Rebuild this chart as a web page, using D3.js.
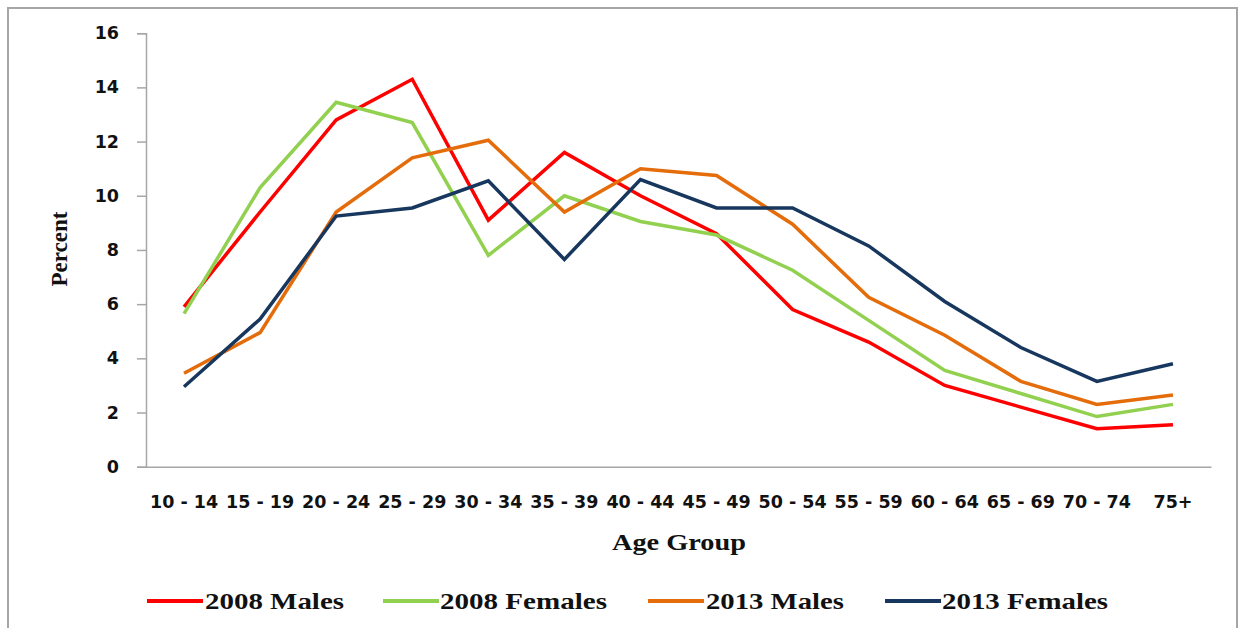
<!DOCTYPE html>
<html>
<head>
<meta charset="utf-8">
<script src="https://cdn.jsdelivr.net/npm/d3@7"></script>
<style>
  html, body { margin: 0; padding: 0; background: #fff; }
  svg { display: block; }
</style>
</head>
<body>
<svg id="chart" width="1239" height="628"></svg>
<script>
const categories = ["10 - 14","15 - 19","20 - 24","25 - 29","30 - 34","35 - 39","40 - 44","45 - 49","50 - 54","55 - 59","60 - 64","65 - 69","70 - 74","75+"];
const males2008   = [5.9, 9.4, 12.8, 14.3, 9.1, 11.6, 10.0, 8.6, 5.8, 4.6, 3.0, 2.2, 1.4, 1.55];
const females2008 = [5.65, 10.3, 13.45, 12.7, 7.8, 10.0, 9.05, 8.55, 7.25, 5.4, 3.55, 2.7, 1.85, 2.3];
const males2013   = [3.45, 4.95, 9.4, 11.4, 12.05, 9.4, 11.0, 10.75, 8.95, 6.25, 4.85, 3.15, 2.3, 2.65];
const females2013 = [2.95, 5.45, 9.25, 9.55, 10.55, 7.65, 10.6, 9.55, 9.55, 8.15, 6.1, 4.4, 3.15, 3.8];
const yTicks = [0, 2, 4, 6, 8, 10, 12, 14, 16];
const seriesNames = ["2008 Males", "2008 Females", "2013 Males", "2013 Females"];
const seriesColors = ["#ff0000", "#92d050", "#e46c0a", "#17375e"];

const series = [males2008, females2008, males2013, females2013].map((v, i) => ({
  name: seriesNames[i], color: seriesColors[i], values: v
}));

const svg = d3.select("#chart");
const plot = { left: 146, right: 1211, top: 33.2, bottom: 466.7 };

// outer border
svg.append("rect").attr("x", 8).attr("y", 8).attr("width", 1229).attr("height", 640)
  .attr("fill", "none").attr("stroke", "#a6a6a6").attr("stroke-width", 2);

const x = d3.scaleBand().domain(categories).range([plot.left, plot.right]);
const y = d3.scaleLinear().domain([0, 16]).range([plot.bottom, plot.top]);

const axisColor = "#a6a6a6";
const tickFont = "'DejaVu Sans', sans-serif";

// Y axis
const yAxis = svg.append("g").attr("transform", `translate(${plot.left},0)`)
  .call(d3.axisLeft(y).tickValues(yTicks).tickSize(9).tickPadding(18).tickFormat(d3.format("d")));
yAxis.select(".domain").attr("stroke", axisColor).attr("stroke-width", 1.5);
yAxis.selectAll(".tick line").attr("stroke", axisColor).attr("stroke-width", 1.5);
yAxis.selectAll(".tick text").attr("fill", "#111").style("font-family", tickFont)
  .style("font-weight", "bold").style("font-size", "17.5px");

// X axis
const xAxis = svg.append("g").attr("transform", `translate(0,${plot.bottom})`)
  .call(d3.axisBottom(x).tickSize(0).tickPadding(29).tickSizeOuter(0));
xAxis.select(".domain").attr("stroke", axisColor).attr("stroke-width", 1.5);
xAxis.selectAll(".tick text").attr("fill", "#111").style("font-family", tickFont)
  .style("font-weight", "bold").style("font-size", "17.5px");

// Lines
const line = d3.line()
  .x((d, i) => x(categories[i]) + x.bandwidth() / 2)
  .y(d => y(d));

svg.append("g").selectAll("path").data(series).join("path")
  .attr("d", d => line(d.values))
  .attr("fill", "none")
  .attr("stroke", d => d.color)
  .attr("stroke-width", 3.5)
  .attr("stroke-linejoin", "miter")
  .attr("stroke-linecap", "butt");

// Axis titles
svg.append("text").attr("transform", "translate(67,249) rotate(-90)")
  .attr("text-anchor", "middle")
  .style("font-family", "'Liberation Serif', 'Times New Roman', serif")
  .style("font-weight", "bold").style("font-size", "23px").attr("fill", "#111")
  .text("Percent");

svg.append("text").attr("x", 612).attr("y", 550)
  .attr("textLength", 134).attr("lengthAdjust", "spacingAndGlyphs")
  .style("font-family", "'Liberation Serif', 'Times New Roman', serif")
  .style("font-weight", "bold").style("font-size", "24px").attr("fill", "#111")
  .text("Age Group");

// Legend
const legendItems = [
  { lineX: 147, textX: 205, textW: 139 },
  { lineX: 383, textX: 440, textW: 167 },
  { lineX: 648, textX: 706, textW: 138 },
  { lineX: 885, textX: 942, textW: 166 }
];
const legend = svg.append("g");
series.forEach((s, i) => {
  const it = legendItems[i];
  legend.append("line").attr("x1", it.lineX).attr("x2", it.lineX + 56)
    .attr("y1", 601).attr("y2", 601)
    .attr("stroke", s.color).attr("stroke-width", 4);
  legend.append("text").attr("x", it.textX).attr("y", 609)
    .attr("textLength", it.textW).attr("lengthAdjust", "spacingAndGlyphs")
    .style("font-family", "'Liberation Serif', 'Times New Roman', serif")
    .style("font-weight", "bold").style("font-size", "24px").attr("fill", "#111")
    .text(s.name);
});
</script>
</body>
</html>
